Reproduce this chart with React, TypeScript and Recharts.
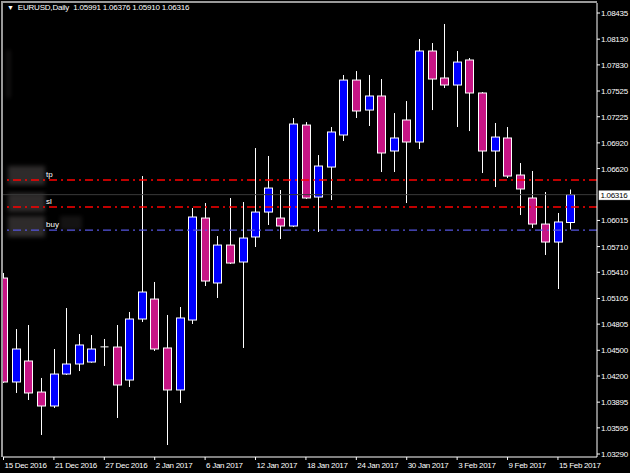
import React from "react";
import { ComposedChart, Bar, XAxis, YAxis, ReferenceLine } from "recharts";

// daily EURUSD bars, 15 Dec 2016 .. 16 Feb 2017
const dates = [
  "15 Dec 2016", "16 Dec 2016", "19 Dec 2016", "20 Dec 2016", "21 Dec 2016", "22 Dec 2016",
  "23 Dec 2016", "26 Dec 2016", "27 Dec 2016", "28 Dec 2016", "29 Dec 2016", "30 Dec 2016",
  "2 Jan 2017", "3 Jan 2017", "4 Jan 2017", "5 Jan 2017", "6 Jan 2017", "9 Jan 2017",
  "10 Jan 2017", "11 Jan 2017", "12 Jan 2017", "13 Jan 2017", "16 Jan 2017", "17 Jan 2017",
  "18 Jan 2017", "19 Jan 2017", "20 Jan 2017", "23 Jan 2017", "24 Jan 2017", "25 Jan 2017",
  "26 Jan 2017", "27 Jan 2017", "30 Jan 2017", "31 Jan 2017", "1 Feb 2017", "2 Feb 2017",
  "3 Feb 2017", "6 Feb 2017", "7 Feb 2017", "8 Feb 2017", "9 Feb 2017", "10 Feb 2017",
  "13 Feb 2017", "14 Feb 2017", "15 Feb 2017", "16 Feb 2017",
];

const opens = [
  1.05343, 1.0413, 1.04375, 1.04013, 1.0385, 1.04223, 1.0434, 1.04363, 1.04538, 1.04538, 1.04153, 1.04865,
  1.05098, 1.04527, 1.04037, 1.04853, 1.06043, 1.05285, 1.05728, 1.0553, 1.05822, 1.06113, 1.06043, 1.0595,
  1.07128, 1.06288, 1.06638, 1.07012, 1.07653, 1.07303, 1.07467, 1.06825, 1.07187, 1.0693, 1.07992, 1.07677,
  1.07595, 1.07887, 1.07502, 1.06825, 1.06977, 1.06545, 1.06277, 1.05973, 1.05763, 1.05991,
];
const highs = [
  1.05402, 1.04748, 1.04795, 1.04177, 1.04515, 1.04993, 1.0469, 1.04678, 1.04632, 1.04795, 1.04947, 1.06533,
  1.05297, 1.04912, 1.05005, 1.0616, 1.06218, 1.05833, 1.06277, 1.0623, 1.0686, 1.06767, 1.0637, 1.0721,
  1.07163, 1.06778, 1.07105, 1.07712, 1.07758, 1.07712, 1.07665, 1.07268, 1.07408, 1.08132, 1.08085, 1.08307,
  1.07992, 1.0791, 1.07513, 1.07152, 1.07105, 1.06685, 1.06592, 1.06347, 1.06102, 1.06376,
];
const lows = [
  1.0412, 1.04002, 1.0392, 1.03512, 1.03827, 1.04212, 1.04258, 1.04355, 1.04317, 1.0371, 1.04072, 1.0483,
  1.04492, 1.03395, 1.03885, 1.04807, 1.0525, 1.0511, 1.05507, 1.04527, 1.05705, 1.05962, 1.05798, 1.05938,
  1.06265, 1.0588, 1.06253, 1.06942, 1.0721, 1.07117, 1.0658, 1.0658, 1.06218, 1.06848, 1.07303, 1.0756,
  1.07105, 1.07058, 1.06568, 1.06405, 1.0651, 1.06078, 1.05927, 1.05612, 1.05215, 1.0591,
];
const closes = [
  1.0413, 1.04515, 1.04002, 1.0385, 1.04223, 1.0434, 1.04562, 1.04515, 1.0454, 1.04095, 1.04865, 1.0518,
  1.04515, 1.04037, 1.04877, 1.06055, 1.05308, 1.05728, 1.05518, 1.0581, 1.06113, 1.06393, 1.0595, 1.0714,
  1.06277, 1.0665, 1.07047, 1.07653, 1.07292, 1.07467, 1.06802, 1.06977, 1.0693, 1.07992, 1.07665, 1.07595,
  1.07863, 1.07502, 1.06825, 1.06988, 1.06533, 1.06382, 1.05973, 1.05763, 1.05997, 1.06316,
];

const priceTicks = [
  1.08435, 1.0813, 1.0783, 1.07525, 1.07225, 1.0692, 1.0662, 1.06015, 1.0571,
  1.0541, 1.05105, 1.04805, 1.045, 1.042, 1.03895, 1.03595, 1.0329,
];
const dateTicks = [0, 4, 8, 12, 16, 20, 24, 28, 32, 36, 40, 44];

const symbol = "EURUSD,Daily";
const lastBar = "1.05991 1.06376 1.05910 1.06316";
const lastPrice = 1.06316;
const levelTp = 1.06487;
const levelSl = 1.06172;
const levelBuy = 1.05903;

const data = dates.map((d, i) => ({
  i,
  date: d,
  open: opens[i],
  high: highs[i],
  low: lows[i],
  close: closes[i],
}));

const FONT = "'Liberation Sans', Arial, sans-serif";
const BULL = "#0000ff";
const BEAR = "#c71585";

const Candle = (props: any) => {
  const { x, y, width, height, payload } = props;
  const { open, close, high, low } = payload;
  const top = Math.min(y, y + height);
  const h = Math.abs(height);
  const k = h / (high - low);
  const py = (p: number) => top + (high - p) * k;
  const cx = Math.round(x + width / 2) + 0.5;
  const bTop = py(Math.max(open, close));
  const bBot = py(Math.min(open, close));
  const up = close >= open;
  return (
    <g>
      <line x1={cx} x2={cx} y1={top} y2={top + h} stroke="#ffffff" strokeWidth={1} />
      {bBot - bTop < 1.5 ? (
        <line x1={cx - 4} x2={cx + 4} y1={bTop} y2={bTop} stroke="#ffffff" strokeWidth={1} />
      ) : (
        <rect
          x={cx - 4}
          y={bTop}
          width={8}
          height={bBot - bTop}
          fill={up ? BULL : BEAR}
          stroke="#ffffff"
          strokeWidth={1}
        />
      )}
    </g>
  );
};

const PriceTick = (props: any) => {
  const { x, y, payload } = props;
  return (
    <text x={x - 1} y={y} dy={3} fill="#ffffff" fontSize={8} letterSpacing={-0.3} fontFamily={FONT}>
      {payload.value.toFixed(5)}
    </text>
  );
};

const DateTick = (props: any) => {
  const { x, y, payload } = props;
  return (
    <text
      x={x + 1}
      y={y}
      dy={6}
      fill="#ffffff"
      fontSize={8}
      letterSpacing={-0.3}
      fontFamily={FONT}
      textAnchor="start"
    >
      {dates[payload.value]}
    </text>
  );
};

const levelLabel = (name: string) => (p: any) => {
  const vb = p.viewBox;
  return (
    <text x={vb.x + 43} y={vb.y - 3} fill="#ffffff" fontSize={8} fontFamily={FONT}>
      {name}
    </text>
  );
};

const priceBox = (p: any) => {
  const vb = p.viewBox;
  const bx = vb.x + vb.width + 1.5;
  return (
    <g>
      <rect x={bx} y={vb.y - 4.5} width={33} height={10} fill="#ffffff" stroke="#000000" strokeWidth={0.5} />
      <text x={bx + 2} y={vb.y + 3.5} fill="#000000" fontSize={8} letterSpacing={-0.3} fontFamily={FONT}>
        {lastPrice.toFixed(5)}
      </text>
    </g>
  );
};

const smudge = (left: number, top: number, w: number, h: number, op: number) => (
  <div
    style={{
      position: "absolute",
      left,
      top,
      width: w,
      height: h,
      background: "#2e2b2b",
      opacity: op,
      filter: "blur(2px)",
    }}
  />
);

export default function App() {
  return (
    <div
      style={{
        position: "absolute",
        left: 0,
        top: 0,
        width: 630,
        height: 473,
        background: "#000000",
        overflow: "hidden",
      }}
    >
      {smudge(7, 50, 3, 48, 0.6)}
      {smudge(8, 166, 37, 19, 1)}
      {smudge(8, 193, 37, 19, 1)}
      {smudge(8, 216, 37, 21, 1)}
      {smudge(60, 216, 22, 14, 0.45)}
      <div style={{ position: "absolute", left: 0, top: 0 }}>
        <ComposedChart
          width={630}
          height={473}
          data={data}
          margin={{ top: 3, right: 0, bottom: 0, left: 3 }}
        >
          <XAxis
            dataKey="i"
            type="number"
            domain={[-0.04, 47.1]}
            allowDataOverflow
            ticks={dateTicks}
            interval={0}
            height={16}
            axisLine={{ stroke: "#ffffff" }}
            tickLine={{ stroke: "#ffffff" }}
            tickSize={3}
            tick={<DateTick />}
          />
          <YAxis
            orientation="right"
            type="number"
            domain={[1.03255, 1.08552]}
            allowDataOverflow
            ticks={priceTicks}
            interval={0}
            width={33}
            axisLine={{ stroke: "#ffffff" }}
            tickLine={{ stroke: "#ffffff" }}
            tickSize={3}
            tick={<PriceTick />}
          />
          <ReferenceLine y={lastPrice} stroke="#3a3a3a" strokeWidth={1} label={priceBox} />
          <ReferenceLine y={levelTp} stroke="#ff0000" strokeWidth={1.6} strokeDasharray="8 4 2 4" label={levelLabel("tp")} />
          <ReferenceLine y={levelSl} stroke="#ff0000" strokeWidth={1.6} strokeDasharray="8 4 2 4" label={levelLabel("sl")} />
          <ReferenceLine y={levelBuy} stroke="#5555e0" strokeWidth={1.3} strokeDasharray="8 4 2 4" label={levelLabel("buy")} />
          <Bar
            dataKey={(d: any) => [d.low, d.high]}
            barSize={8}
            shape={<Candle />}
            isAnimationActive={false}
          />
        </ComposedChart>
      </div>
      <div
        style={{
          position: "absolute",
          left: 1,
          top: 1,
          width: 596,
          height: 456,
          borderTop: "2px solid #9a9a9a",
          borderLeft: "2px solid #9a9a9a",
          boxSizing: "border-box",
          pointerEvents: "none",
        }}
      />
      <div
        style={{
          position: "absolute",
          left: 7,
          top: 3,
          color: "#ffffff",
          fontFamily: FONT,
          fontSize: 8,
          letterSpacing: -0.2,
          whiteSpace: "pre",
          lineHeight: "10px",
        }}
      >
        <span style={{ fontSize: 7 }}>▼</span>
        {"  " + symbol + "  " + lastBar}
      </div>
    </div>
  );
}
